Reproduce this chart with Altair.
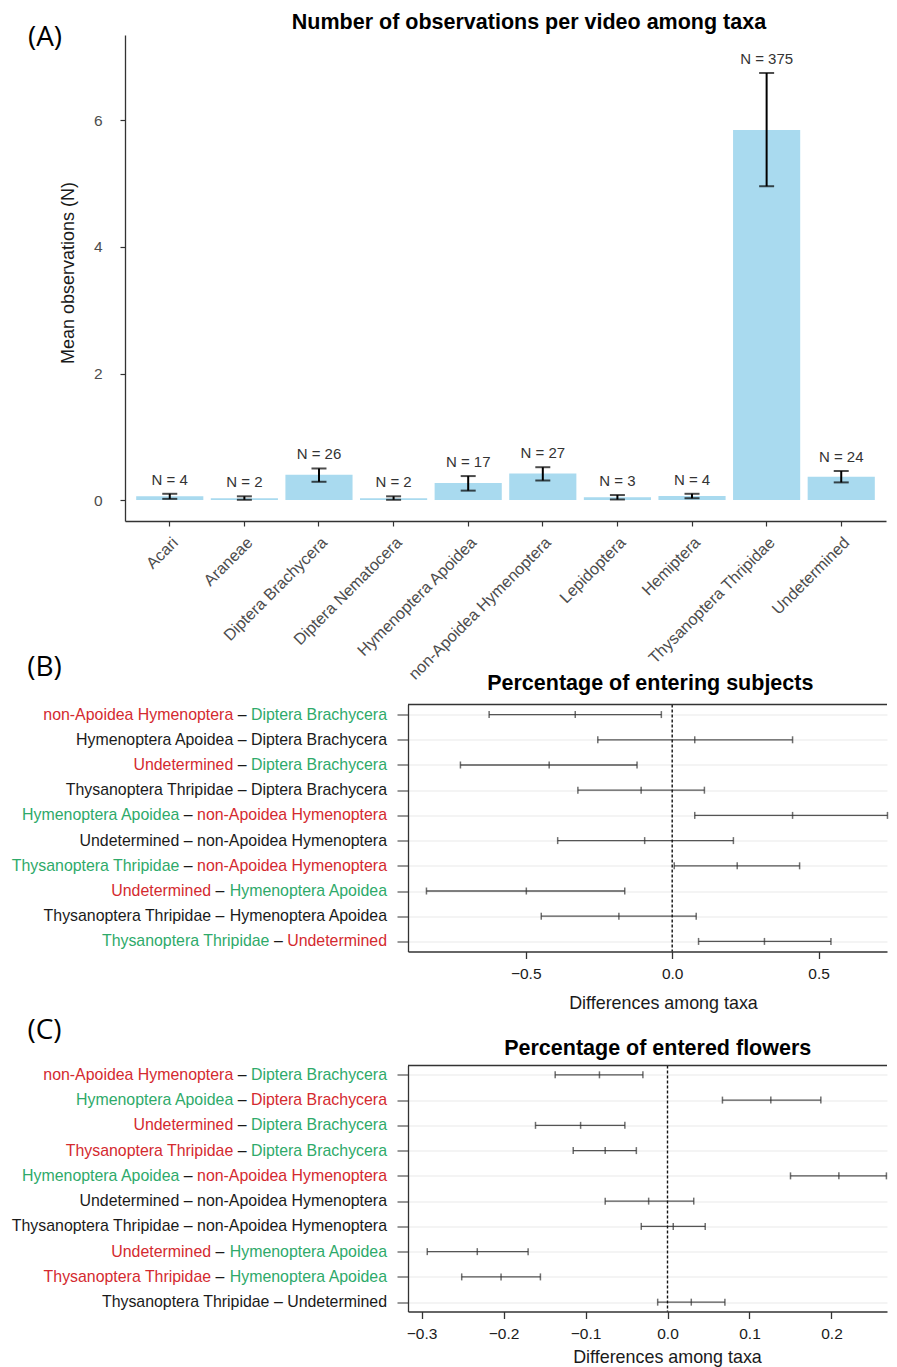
import altair as alt
import pandas as pd

# ---------------- Panel A data ----------------
taxa = ["Acari", "Araneae", "Diptera Brachycera", "Diptera Nematocera",
        "Hymenoptera Apoidea", "non-Apoidea Hymenoptera", "Lepidoptera",
        "Hemiptera", "Thysanoptera Thripidae", "Undetermined"]
mean_obs = [0.06, 0.03, 0.40, 0.03, 0.27, 0.42, 0.045, 0.065, 5.85, 0.37]
low_obs = [0.02, 0.005, 0.29, 0.005, 0.15, 0.31, 0.01, 0.03, 4.96, 0.28]
high_obs = [0.10, 0.06, 0.50, 0.06, 0.38, 0.52, 0.08, 0.10, 6.75, 0.46]
n_obs = [4, 2, 26, 2, 17, 27, 3, 4, 375, 24]

# ---------------- Pairwise comparisons (B, C) ----------------
pair_first = ["non-Apoidea Hymenoptera", "Hymenoptera Apoidea", "Undetermined",
              "Thysanoptera Thripidae", "Hymenoptera Apoidea", "Undetermined",
              "Thysanoptera Thripidae", "Undetermined", "Thysanoptera Thripidae",
              "Thysanoptera Thripidae"]
pair_second = ["Diptera Brachycera", "Diptera Brachycera", "Diptera Brachycera",
               "Diptera Brachycera", "non-Apoidea Hymenoptera", "non-Apoidea Hymenoptera",
               "non-Apoidea Hymenoptera", "Hymenoptera Apoidea", "Hymenoptera Apoidea",
               "Undetermined"]
b_diff = [-0.331, 0.077, -0.420, -0.106, 0.411, -0.094, 0.222, -0.498, -0.182, 0.315]
b_lwr = [-0.625, -0.254, -0.723, -0.322, 0.077, -0.391, 0.007, -0.839, -0.447, 0.090]
b_upr = [-0.037, 0.411, -0.120, 0.110, 0.735, 0.209, 0.435, -0.162, 0.082, 0.542]
c_diff = [-0.083, 0.126, -0.106, -0.076, 0.209, -0.023, 0.007, -0.232, -0.203, 0.029]
c_lwr = [-0.137, 0.067, -0.161, -0.115, 0.150, -0.076, -0.032, -0.293, -0.251, -0.012]
c_upr = [-0.030, 0.187, -0.052, -0.038, 0.267, 0.032, 0.046, -0.170, -0.155, 0.070]

FONT = "Liberation Sans"
BLUE = "#A9DAEF"
RED = "#D42A2F"
GREEN = "#2EAA6A"
INK = "#1a1a1a"
FRAME = "#333333"
LABEL_FS = 15.9
TITLE_FS = 21.5

# Arial / Liberation Sans advance widths (1/1000 em) used to lay out the
# multi-coloured comparison labels piece by piece.
ADV = {" ": 278, "-": 333, "\u2013": 556, "A": 667, "B": 667, "D": 722, "H": 722,
       "T": 611, "U": 722, "a": 556, "b": 556, "c": 500, "d": 556, "e": 556,
       "h": 556, "i": 222, "m": 833, "n": 556, "o": 556, "p": 556, "r": 333,
       "s": 500, "t": 278, "y": 500, "l": 222}


def text_w(s, fs):
    return sum(ADV.get(ch, 556) for ch in s) / 1000.0 * fs


# ---------------- Panel A ----------------
dfA = pd.DataFrame({"taxon": taxa, "mean": mean_obs, "low": low_obs,
                    "high": high_obs, "nlab": ["N = %d" % n for n in n_obs]})

xA = alt.X("taxon:N", sort=taxa,
           scale=alt.Scale(paddingInner=0.1, paddingOuter=0.15),
           axis=alt.Axis(title=None, labelAngle=-45, labelAlign="right", labelBaseline="top",
                         labelFontSize=16.2, labelColor="#4d4d4d", labelLimit=400,
                         labelPadding=8, tickSize=5, tickColor=FRAME, tickWidth=1.2,
                         domainColor=FRAME, domainWidth=1.3, grid=False))
yscaleA = alt.Scale(domain=[-0.33, 7.35], nice=False, zero=False)
yA = alt.Y("mean:Q", scale=yscaleA,
           axis=alt.Axis(values=[0, 2, 4, 6], format="d", title="Mean observations (N)",
                         titleFontSize=18, titleFontWeight="normal", titleColor=INK,
                         titleX=-57, titleY=237.5, titleBaseline="middle", titleAlign="center",
                         labelFontSize=15.5, labelColor="#4d4d4d", labelPadding=18,
                         tickSize=5, tickColor=FRAME, tickWidth=1.2,
                         domainColor=FRAME, domainWidth=1.3, grid=False))

baseA = alt.Chart(dfA)
bars = baseA.mark_bar(color=BLUE).encode(x=xA, y=yA)
err = baseA.mark_rule(color="black", strokeWidth=2).encode(
    x=alt.X("taxon:N", sort=taxa), y=alt.Y("low:Q", scale=yscaleA), y2="high:Q")
cap_lo = baseA.mark_tick(color="black", thickness=2, size=15).encode(
    x=alt.X("taxon:N", sort=taxa), y=alt.Y("low:Q", scale=yscaleA))
cap_hi = baseA.mark_tick(color="black", thickness=2, size=15).encode(
    x=alt.X("taxon:N", sort=taxa), y=alt.Y("high:Q", scale=yscaleA))
ntext = baseA.mark_text(dy=-14, baseline="middle", align="center", fontSize=15,
                        font=FONT, color="#333").encode(
    x=alt.X("taxon:N", sort=taxa), y=alt.Y("high:Q", scale=yscaleA), text="nlab:N")
tagA = alt.Chart(pd.DataFrame({"t": ["(A)"]})).mark_text(
    font="Open Sans", fontSize=28, align="center", baseline="middle", color="black").encode(
    x=alt.value(-80), y=alt.value(3), text="t:N")
titleA = alt.Chart(pd.DataFrame({"t": ["Number of observations per video among taxa"]})).mark_text(
    font=FONT, fontSize=TITLE_FS, fontWeight="bold", align="center", baseline="middle",
    color="black").encode(x=alt.value(404), y=alt.value(-12), text="t:N")
anchorA = alt.Chart(pd.DataFrame({"t": [0]})).mark_rule(color="white", strokeWidth=1).encode(
    x=alt.value(-116.5), y=alt.value(0), y2=alt.value(1))
anchorA2 = alt.Chart(pd.DataFrame({"t": [0]})).mark_rule(color="white", strokeWidth=1).encode(
    x=alt.value(-60), x2=alt.value(-59), y=alt.value(660))

panelA = alt.layer(bars, err, cap_lo, cap_hi, ntext, tagA, titleA, anchorA, anchorA2).properties(
    width=761, height=486)


# ---------------- Pairwise panels ----------------
LX = 262      # right end of the comparison labels (label column coordinates)
PLOT_W = 479  # comparison plot width (its right side runs to the page edge)


def pair_df(diff, lwr, upr):
    rows = []
    for f, s, d, lo, hi in zip(pair_first, pair_second, diff, lwr, upr):
        sig = lo > 0 or hi < 0
        s1 = ("higher" if d > 0 else "lower") if sig else "ns"
        s2 = ("lower" if d > 0 else "higher") if sig else "ns"
        rows.append(dict(label=f"{f} \u2013 {s}", first=f, dash="\u2013", second=s,
                         s1=s1, s2=s2, diff=d, lwr=lo, upr=hi,
                         px2=LX,
                         pxd=LX - text_w(" " + s, LABEL_FS),
                         px1=LX - text_w(" \u2013 " + s, LABEL_FS)))
    return pd.DataFrame(rows)


color_scale = alt.Scale(domain=["higher", "lower", "ns"], range=[GREEN, RED, INK])


def pair_panel(diff, lwr, upr, tag, tag_y, title, title_x, title_y,
               xdomain, xvalues, height, pad, axis_title_x, axis_title_y, label_pad):
    df = pair_df(diff, lwr, upr)
    labels = list(df["label"])
    yscale = alt.Scale(type="point", domain=labels, padding=pad)

    # label column: each comparison drawn as three coloured pieces
    lbase = alt.Chart(df).encode(y=alt.Y("label:N", sort=labels, scale=yscale, axis=None))
    kw = dict(align="right", baseline="middle", fontSize=LABEL_FS, font=FONT)
    t_first = lbase.mark_text(**kw).encode(
        x=alt.X("px1:Q", scale=None), text="first:N",
        color=alt.Color("s1:N", scale=color_scale, legend=None))
    t_dash = lbase.mark_text(**kw).encode(
        x=alt.X("pxd:Q", scale=None), text="dash:N", color=alt.value(INK))
    t_second = lbase.mark_text(**kw).encode(
        x=alt.X("px2:Q", scale=None), text="second:N",
        color=alt.Color("s2:N", scale=color_scale, legend=None))
    t_tag = alt.Chart(pd.DataFrame({"t": [tag]})).mark_text(
        font="Open Sans", fontSize=28, align="center", baseline="middle", color="black").encode(
        x=alt.value(-80.5), y=alt.value(tag_y), text="t:N")
    labels_chart = alt.layer(t_first, t_dash, t_second, t_tag).properties(
        width=271, height=height)

    # comparison plot
    xscale = alt.Scale(domain=xdomain, nice=False, zero=False)
    yenc = alt.Y("label:N", sort=labels, scale=yscale,
                 axis=alt.Axis(labels=False, title=None, domain=True, domainColor=FRAME,
                               domainWidth=1.3, ticks=True,
                               tickSize=11, tickColor="#555", tickWidth=1.2,
                               grid=True, gridColor="#e9e9e9", gridWidth=1))
    xaxis = alt.Axis(values=xvalues, format=".1f", domain=True, domainColor=FRAME,
                     domainWidth=1.3, grid=False,
                     tickSize=7, tickColor=FRAME, tickWidth=1.3,
                     labelFontSize=15.5, labelColor=INK, labelPadding=label_pad,
                     title="Differences among taxa", titleFontSize=17.9,
                     titleFontWeight="normal", titleColor=INK, titleX=axis_title_x,
                     titleY=axis_title_y, titleBaseline="middle", titleAlign="center")
    ci = alt.Chart(df).mark_rule(color="#555", strokeWidth=1.3).encode(
        x=alt.X("lwr:Q", scale=xscale, axis=xaxis), x2="upr:Q", y=yenc)
    long = df.melt(id_vars=["label"], value_vars=["lwr", "diff", "upr"], value_name="val")
    ticks = alt.Chart(long).mark_tick(color="#333", thickness=1.5, size=7).encode(
        x=alt.X("val:Q", scale=xscale), y=alt.Y("label:N", sort=labels, scale=yscale))
    zero = alt.Chart(pd.DataFrame({"z": [0.0]})).mark_rule(
        color="#111", strokeDash=[3, 2], strokeWidth=1.4).encode(
        x=alt.X("z:Q", scale=xscale))
    top_line = alt.Chart(pd.DataFrame({"t": [0]})).mark_rule(
        color=FRAME, strokeWidth=1.3).encode(
        x=alt.value(0), x2=alt.value(PLOT_W), y=alt.value(0))
    ttl = alt.Chart(pd.DataFrame({"t": [title]})).mark_text(
        font=FONT, fontSize=TITLE_FS, fontWeight="bold", align="center", baseline="middle",
        color="black").encode(x=alt.value(title_x), y=alt.value(title_y), text="t:N")
    plot = alt.layer(ci, ticks, zero, top_line, ttl).properties(width=PLOT_W, height=height)
    return alt.hconcat(labels_chart, plot, spacing=0)


panelB = pair_panel(b_diff, b_lwr, b_upr, "(B)", -37, "Percentage of entering subjects",
                    242.3, -21, [-0.902, 0.7334], [-0.5, 0.0, 0.5], 247, 0.4, 255, 52, 8)
panelC = pair_panel(c_diff, c_lwr, c_upr, "(C)", -35, "Percentage of entered flowers",
                    249.7, -17, [-0.3165, 0.2677], [-0.3, -0.2, -0.1, 0.0, 0.1, 0.2], 246, 0.37,
                    259, 46, 8)

inner = alt.vconcat(panelB, panelC, spacing=4)
chart = alt.vconcat(panelA, inner, spacing=-42.5).properties(
    padding={"left": 0, "top": 4, "right": 0, "bottom": 0}
).configure(font=FONT).configure_view(strokeWidth=0)

chart.save("out.html", embed_options={"renderer": "svg", "actions": False})
